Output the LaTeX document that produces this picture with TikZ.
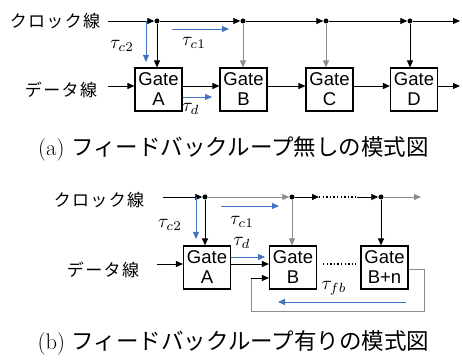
\documentclass[tikz,border=0pt]{standalone}
\usepackage{fontspec}
\newfontfamily\jpfont{Noto Sans CJK JP}
\newfontfamily\jpfontsp[LetterSpace=8]{Noto Sans CJK JP}
\newfontfamily\gatefont{Liberation Sans}
\usetikzlibrary{arrows.meta}
\definecolor{blueA}{HTML}{4472C4}
\definecolor{grayL}{HTML}{8C8C8C}
\newcommand{\tlab}[1]{\scalebox{1.9}{$#1$}}
\tikzset{
  gatebox/.style={draw, line width=1.1pt, minimum width=47pt, minimum height=43pt, inner sep=0pt, align=center, font=\gatefont\fontsize{18.5}{20}\selectfont},
  jlabel/.style={inner sep=0pt, font=\jpfontsp\fontsize{17}{20}\selectfont},
  taulabel/.style={inner sep=0pt},
  caplabel/.style={inner sep=0pt, font=\fontsize{22.5}{26}\selectfont},
  dotnode/.style={circle, fill=black, inner sep=0pt, minimum size=5pt},
  arr/.style={line width=0.8pt, -{Triangle[length=7pt,width=6pt]}},
  barr/.style={arr, draw=blueA},
  garr/.style={arr, draw=grayL},
  gline/.style={line width=0.8pt, draw=grayL},
  dotline/.style={line width=1.3pt, dash pattern=on 1.3pt off 2.3pt},
}
\begin{document}
\begin{tikzpicture}[x=1pt,y=-1pt]
\useasboundingbox (0,0) rectangle (463,363);
% ---------------- (a) ----------------
\node[jlabel] (clkA) at (55,21) {クロック線};
\node[jlabel] (datA) at (61,90) {データ線};
\coordinate (ca0) at (108,21);
\node[dotnode] (da1) at (157,21) {};
\node[dotnode] (da2) at (243,21) {};
\node[dotnode] (da3) at (326,21) {};
\node[dotnode] (da4) at (410,21) {};
\coordinate (caEnd) at (460,21);
\node[gatebox] (gA) at (158.5,89.5) {Gate\\A};
\node[gatebox] (gB) at (243.5,89.5) {Gate\\B};
\node[gatebox] (gC) at (329.5,89.5) {Gate\\C};
\node[gatebox] (gD) at (414,89.5) {Gate\\D};
\coordinate (dA0) at (108,86);
\coordinate (dAEnd) at (460,86);
\draw[arr] (ca0) -- (da1.west);
\draw[arr] (da1.east) -- (da2.west);
\draw[arr] (da2.east) -- (da3.west);
\draw[arr] (da3.east) -- (da4.west);
\draw[arr] (da4.east) -- (caEnd);
\draw[arr] (da1.south) -- (da1 |- gA.north);
\draw[garr] (da2.south) -- (da2 |- gB.north);
\draw[garr] (da3.south) -- (da3 |- gC.north);
\draw[arr] (da4.south) -- (da4 |- gD.north);
\draw[arr] (dA0) -- (dA0 -| gA.west);
\draw[arr] (gA.east |- dA0) -- (gB.west |- dA0);
\draw[arr] (gB.east |- dA0) -- (gC.west |- dA0);
\draw[arr] (gC.east |- dA0) -- (gD.west |- dA0);
\draw[arr] (gD.east |- dA0) -- (dAEnd);
% blue delays (a)
\coordinate (bc2s) at (146,21);
\coordinate (bc2e) at (146,62);
\draw[barr] (bc2s) -- (bc2e);
\coordinate (bc1s) at (172,29);
\coordinate (bc1e) at (229,29);
\draw[barr] (bc1s) -- (bc1e);
\coordinate (bde) at (212,97);
\draw[barr] (gA.east |- bde) -- (bde);
\node[taulabel] (tc2a) at (122,46) {\tlab{\tau_{c2}}};
\node[taulabel] (tc1a) at (194,43) {\tlab{\tau_{c1}}};
\node[taulabel] (tda) at (191,109) {\tlab{\tau_{d}}};
\node[caplabel] (capA) at (233.5,149) {(a) {\jpfont フィードバックループ無しの模式図}};
% ---------------- (b) ----------------
\node[jlabel] (clkB) at (99,200) {クロック線};
\node[jlabel] (datB) at (103,270) {データ線};
\coordinate (cb0) at (163,197);
\node[dotnode] (db1) at (205,197) {};
\node[dotnode] (db2) at (292,197) {};
\node[dotnode] (db3) at (381,197) {};
\coordinate (cbd1) at (319,197);
\coordinate (cbd2) at (357,197);
\coordinate (cbEnd) at (421,197);
\node[gatebox] (gAb) at (207,267.5) {Gate\\A};
\node[gatebox] (gBb) at (293,267.5) {Gate\\B};
\node[gatebox] (gBn) at (384.5,267.5) {Gate\\B+n};
\draw[arr] (cb0) -- (db1.west);
\draw[garr] (db1.east) -- (db2.west);
\draw[arr] (db2.east) -- (cbd1);
\draw[dotline] (cbd1) -- (cbd2);
\draw[arr] (cbd2) -- (db3.west);
\draw[garr] (db3.east) -- (cbEnd);
\draw[arr] (db1.south) -- (db1 |- gAb.north);
\draw[garr] (db2.south) -- (db2 |- gBb.north);
\draw[arr] (db3.south) -- (db3 |- gBn.north);
\coordinate (db0) at (157,264);
\draw[arr] (db0) -- (db0 -| gAb.west);
\draw[arr] (gAb.east |- db0) -- (gBb.west |- db0);
\coordinate (dtsA) at (323,264);
\coordinate (dtsB) at (356,264);
\draw[dotline] (dtsA) -- (dtsB);
% feedback loop
\coordinate (fb1) at (424,269);
\coordinate (fb2) at (424,311);
\coordinate (fb3) at (251,311);
\coordinate (fb4) at (251,278);
\draw[gline] (gBn.east |- fb1) -- (fb1) -- (fb2) -- (fb3) -- (fb4);
\draw[arr] (fb4) -- (gBb.west |- fb4);
% blue delays (b)
\coordinate (bc2bs) at (196,197);
\coordinate (bc2be) at (196,239);
\draw[barr] (bc2bs) -- (bc2be);
\coordinate (bc1bs) at (221,206);
\coordinate (bc1be) at (279,206);
\draw[barr] (bc1bs) -- (bc1be);
\coordinate (bdbe) at (265,257);
\draw[barr] (gAb.east |- bdbe) -- (bdbe);
\coordinate (bfbs) at (406,302);
\coordinate (bfbe) at (278,302);
\draw[barr] (bfbs) -- (bfbe);
\node[taulabel] (tc2b) at (170,225) {\tlab{\tau_{c2}}};
\node[taulabel] (tc1b) at (242,222) {\tlab{\tau_{c1}}};
\node[taulabel] (tdb) at (242,243) {\tlab{\tau_{d}}};
\node[taulabel] (tfb) at (334,288) {\tlab{\tau_{fb}}};
\node[caplabel] (capB) at (233.5,343) {(b) {\jpfont フィードバックループ有りの模式図}};
\end{tikzpicture}
\end{document}
